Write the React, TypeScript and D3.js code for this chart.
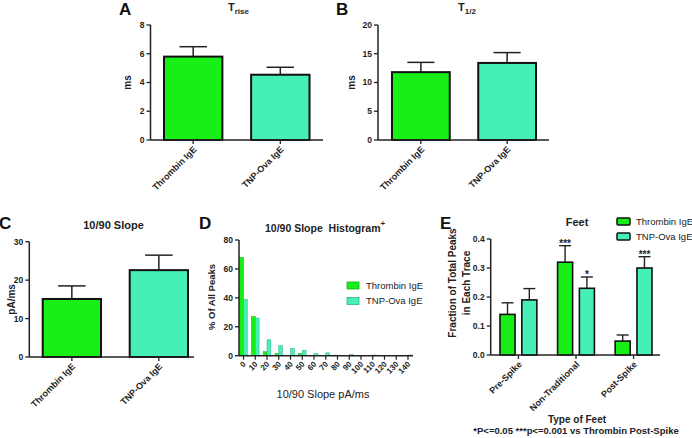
import React from 'react';
import * as d3 from 'd3';

const FONT = '"Liberation Sans", Arial, Helvetica, sans-serif';
const INK = '#222';

const groups = ['Thrombin IgE', 'TNP-Ova IgE'];
const colors = ['#17ef17', '#46efb5'];

const triseMean = [5.8, 4.54];
const triseErr = [0.69, 0.52];
const triseTicks = [0, 2, 4, 6, 8];

const thalfMean = [11.8, 13.4];
const thalfErr = [1.7, 1.8];
const thalfTicks = [0, 5, 10, 15, 20];

const slopeMean = [15.1, 22.6];
const slopeErr = [3.4, 3.9];
const slopeTicks = [0, 10, 20, 30];

const histBins = ['0', '10', '20', '30', '40', '50', '60', '70', '80', '90', '100', '110', '120', '130', '140'];
const histThrombin = [68, 27, 2.8, 1.5, 0, 1.5, 0, 0, 0.4, 0, 0, 0, 0, 0, 0];
const histTNP = [39, 26, 11, 7, 5, 3.8, 1.5, 2, 0.3, 0.9, 0, 0.5, 0, 0, 0.5];
const histTicks = [0, 20, 40, 60, 80];

const feetTypes = ['Pre-Spike', 'Non-Traditional', 'Post-Spike'];
const feetThrombin = [0.14, 0.32, 0.048];
const feetThrombinErr = [0.04, 0.057, 0.021];
const feetTNP = [0.19, 0.23, 0.30];
const feetTNPErr = [0.039, 0.039, 0.039];
const feetThrombinSig = ['', '***', ''];
const feetTNPSig = ['', '*', '***'];
const feetTicks = [0, 0.1, 0.2, 0.3, 0.4];

type PanelCfg = {
  axisX: number;
  axisEnd: number;
  band: [number, number];
  y0: number;
  yTop: number;
  max: number;
  ticks: number[];
  means: number[];
  errs: number[];
  yLabel: string;
  yLabelX: number;
};

function YAxis({ x, y, ticks, fmt, fs = 8.5 }: { x: number; y: d3.ScaleLinear<number, number>; ticks: number[]; fmt?: (v: number) => string; fs?: number }) {
  const f = fmt || ((v: number) => String(v));
  return (
    <g>
      <line x1={x} x2={x} y1={y(ticks[0])} y2={y(ticks[ticks.length - 1])} stroke={INK} strokeWidth={1.5} />
      {ticks.map((t) => (
        <g key={t}>
          <line x1={x - 4} x2={x} y1={y(t)} y2={y(t)} stroke={INK} strokeWidth={1.3} />
          <text x={x - 6} y={y(t)} dy="0.35em" textAnchor="end" fontSize={fs} fontWeight="bold" fill={INK} fontFamily={FONT}>
            {f(t)}
          </text>
        </g>
      ))}
    </g>
  );
}

function BarPanel({ cfg }: { cfg: PanelCfg }) {
  const x = d3.scaleBand<string>().domain(groups).range(cfg.band).paddingInner(0.33).paddingOuter(0);
  const y = d3.scaleLinear().domain([0, cfg.max]).range([cfg.y0, cfg.yTop]);
  const bw = x.bandwidth();
  const midY = (cfg.y0 + cfg.yTop) / 2;
  return (
    <g>
      {groups.map((g, i) => {
        const bx = x(g)!;
        const cx = bx + bw / 2;
        const top = y(cfg.means[i]);
        const et = y(cfg.means[i] + cfg.errs[i]);
        return (
          <g key={g}>
            <line x1={cx} x2={cx} y1={top} y2={et} stroke={INK} strokeWidth={1.5} />
            <line x1={cx - bw * 0.235} x2={cx + bw * 0.235} y1={et} y2={et} stroke={INK} strokeWidth={1.5} />
            <rect x={bx} y={top} width={bw} height={cfg.y0 - top} fill={colors[i]} stroke="#111" strokeWidth={2} />
            <line x1={cx} x2={cx} y1={cfg.y0} y2={cfg.y0 + 4} stroke={INK} strokeWidth={1.3} />
            <text transform={`translate(${cx + 4},${cfg.y0 + 10}) rotate(-45)`} textAnchor="end" fontSize={9} fontWeight="bold" fill={INK} fontFamily={FONT}>
              {g}
            </text>
          </g>
        );
      })}
      <line x1={cfg.axisX} x2={cfg.axisEnd} y1={cfg.y0} y2={cfg.y0} stroke={INK} strokeWidth={1.5} />
      <YAxis x={cfg.axisX} y={y} ticks={cfg.ticks} />
      <text transform={`translate(${cfg.yLabelX},${midY}) rotate(-90)`} textAnchor="middle" fontSize={10} fontWeight="bold" fill={INK} fontFamily={FONT}>
        {cfg.yLabel}
      </text>
    </g>
  );
}

function Histogram() {
  const axisX = 239;
  const axisEnd = 413;
  const y0 = 355.7;
  const x = d3.scaleBand<string>().domain(histBins).range([239.7, 411.8]).paddingInner(0.35).paddingOuter(0);
  const sub = d3.scaleBand<string>().domain(groups).range([0, x.bandwidth()]).paddingInner(0);
  const y = d3.scaleLinear().domain([0, 80]).range([y0, 240]);
  const series = [histThrombin, histTNP];
  const strokes = ['#0fb40f', '#2fb48a'];
  return (
    <g>
      {histBins.map((b, k) => {
        const gx = x(b)!;
        return (
          <g key={b}>
            {groups.map((g, i) => {
              const v = series[i][k];
              if (v <= 0) return null;
              return (
                <rect key={g} x={gx + sub(g)!} y={y(v)} width={sub.bandwidth()} height={y0 - y(v)} fill={colors[i]} stroke={strokes[i]} strokeWidth={0.5} />
              );
            })}
            <line x1={gx + x.bandwidth() / 2} x2={gx + x.bandwidth() / 2} y1={y0} y2={y0 + 4} stroke={INK} strokeWidth={1.2} />
            <text transform={`translate(${gx + x.bandwidth() / 2 + 3},${y0 + 9}) rotate(-45)`} textAnchor="end" fontSize={8} fontWeight="bold" fill={INK} fontFamily={FONT}>
              {b}
            </text>
          </g>
        );
      })}
      <line x1={axisX} x2={axisEnd} y1={y0} y2={y0} stroke={INK} strokeWidth={1.5} />
      <YAxis x={axisX} y={y} ticks={histTicks} />
      <text transform={`translate(215,297) rotate(-90)`} textAnchor="middle" fontSize={9.5} fontWeight="bold" fill={INK} fontFamily={FONT}>
        % Of All Peaks
      </text>
      <text x={323} y={398} textAnchor="middle" fontSize={11} fill={INK} fontFamily={FONT}>
        10/90 Slope pA/ms
      </text>
      <text x={265} y={232} fontSize={10.5} fontWeight="bold" fill={INK} fontFamily={FONT} style={{ whiteSpace: 'pre' }}>
        {'10/90 Slope  Histogram'}
        <tspan fontSize={8} dy={-6}>+</tspan>
      </text>
      {groups.map((g, i) => (
        <g key={g}>
          <rect x={347} y={282 + i * 15.5} width={12} height={7} fill={colors[i]} stroke={strokes[i]} strokeWidth={0.8} />
          <text x={366} y={285.5 + i * 15.5} dy="0.35em" fontSize={9.5} fill={INK} fontFamily={FONT}>
            {g}
          </text>
        </g>
      ))}
    </g>
  );
}

function Feet() {
  const axisX = 490.7;
  const axisEnd = 660;
  const y0 = 355;
  const x = d3.scaleBand<string>().domain(feetTypes).range([500, 652]).paddingInner(0.36).paddingOuter(0);
  const sub = d3.scaleBand<string>().domain(groups).range([0, x.bandwidth()]).paddingInner(0.31);
  const y = d3.scaleLinear().domain([0, 0.4]).range([y0, 239]);
  const means = [feetThrombin, feetTNP];
  const errs = [feetThrombinErr, feetTNPErr];
  const sigs = [feetThrombinSig, feetTNPSig];
  const bw = sub.bandwidth();
  return (
    <g>
      {feetTypes.map((t, k) => {
        const gx = x(t)!;
        const gc = gx + x.bandwidth() / 2;
        return (
          <g key={t}>
            {groups.map((g, i) => {
              const bx = gx + sub(g)!;
              const cx = bx + bw / 2;
              const top = y(means[i][k]);
              const et = y(means[i][k] + errs[i][k]);
              return (
                <g key={g}>
                  <line x1={cx} x2={cx} y1={top} y2={et} stroke={INK} strokeWidth={1.4} />
                  <line x1={cx - 6} x2={cx + 6} y1={et} y2={et} stroke={INK} strokeWidth={1.4} />
                  <rect x={bx} y={top} width={bw} height={y0 - top} fill={colors[i]} stroke="#111" strokeWidth={1.6} />
                  {sigs[i][k] ? (
                    <text x={cx} y={et + 1} textAnchor="middle" fontSize={10} fontWeight="bold" fill={INK} fontFamily={FONT}>
                      {sigs[i][k]}
                    </text>
                  ) : null}
                </g>
              );
            })}
            <line x1={gc} x2={gc} y1={y0} y2={y0 + 4} stroke={INK} strokeWidth={1.3} />
            <text transform={`translate(${gc + 4},${y0 + 10}) rotate(-45)`} textAnchor="end" fontSize={9} fontWeight="bold" fill={INK} fontFamily={FONT}>
              {t}
            </text>
          </g>
        );
      })}
      <line x1={axisX} x2={axisEnd} y1={y0} y2={y0} stroke={INK} strokeWidth={1.5} />
      <YAxis x={axisX} y={y} ticks={feetTicks} fmt={d3.format('.1f')} />
      <text transform={`translate(456,283) rotate(-90)`} textAnchor="middle" fontSize={10} fontWeight="bold" fill={INK} fontFamily={FONT}>
        Fraction of Total Peaks
      </text>
      <text transform={`translate(470,283) rotate(-90)`} textAnchor="middle" fontSize={10} fontWeight="bold" fill={INK} fontFamily={FONT}>
        in Each Trace
      </text>
      <text x={577} y={226} textAnchor="middle" fontSize={11} fontWeight="bold" fill={INK} fontFamily={FONT}>
        Feet
      </text>
      {groups.map((g, i) => (
        <g key={g}>
          <rect x={617} y={218 + i * 15} width={13} height={7} rx={1} fill={colors[i]} stroke="#111" strokeWidth={1.5} />
          <text x={636} y={221.5 + i * 15} dy="0.35em" fontSize={9.5} fill={INK} fontFamily={FONT}>
            {g}
          </text>
        </g>
      ))}
      <text x={577} y={423} textAnchor="middle" fontSize={10} fontWeight="bold" fill={INK} fontFamily={FONT}>
        Type of Feet
      </text>
      <text x={576} y={434} textAnchor="middle" fontSize={9.5} fontWeight="bold" fill={INK} fontFamily={FONT}>
        *P&lt;=0.05 ***p&lt;=0.001 vs Thrombin Post-Spike
      </text>
    </g>
  );
}

export default function App() {
  const panelA: PanelCfg = {
    axisX: 150.5, axisEnd: 323, band: [164, 309.5], y0: 140, yTop: 25, max: 8,
    ticks: triseTicks, means: triseMean, errs: triseErr, yLabel: 'ms', yLabelX: 131,
  };
  const panelB: PanelCfg = {
    axisX: 378, axisEnd: 549, band: [392, 536], y0: 140, yTop: 25, max: 20,
    ticks: thalfTicks, means: thalfMean, errs: thalfErr, yLabel: 'ms', yLabelX: 355,
  };
  const panelC: PanelCfg = {
    axisX: 29.3, axisEnd: 194, band: [42.7, 188], y0: 357, yTop: 241.7, max: 30,
    ticks: slopeTicks, means: slopeMean, errs: slopeErr, yLabel: 'pA/ms', yLabelX: 15,
  };
  const letter = (s: string, x: number, y: number) => (
    <text x={x} y={y} fontSize={17} fontWeight="bold" fill="#111" fontFamily={FONT}>
      {s}
    </text>
  );
  return (
    <svg width={692} height={438} style={{ position: 'absolute', left: 0, top: 0, background: '#fff' }}>
      <rect width={692} height={438} fill="#fff" />
      {letter('A', 119, 15)}
      {letter('B', 336, 15)}
      {letter('C', -1, 229)}
      {letter('D', 199, 229)}
      {letter('E', 440, 229)}
      <text x={228} y={11} fontSize={11} fontWeight="bold" fill={INK} fontFamily={FONT}>
        T<tspan fontSize={8} dy={2.5}>rise</tspan>
      </text>
      <text x={458} y={11} fontSize={11} fontWeight="bold" fill={INK} fontFamily={FONT}>
        T<tspan fontSize={8} dy={2.5}>1/2</tspan>
      </text>
      <text x={113.5} y={229} textAnchor="middle" fontSize={11} fontWeight="bold" fill={INK} fontFamily={FONT}>
        10/90 Slope
      </text>
      <BarPanel cfg={panelA} />
      <BarPanel cfg={panelB} />
      <BarPanel cfg={panelC} />
      <Histogram />
      <Feet />
    </svg>
  );
}
